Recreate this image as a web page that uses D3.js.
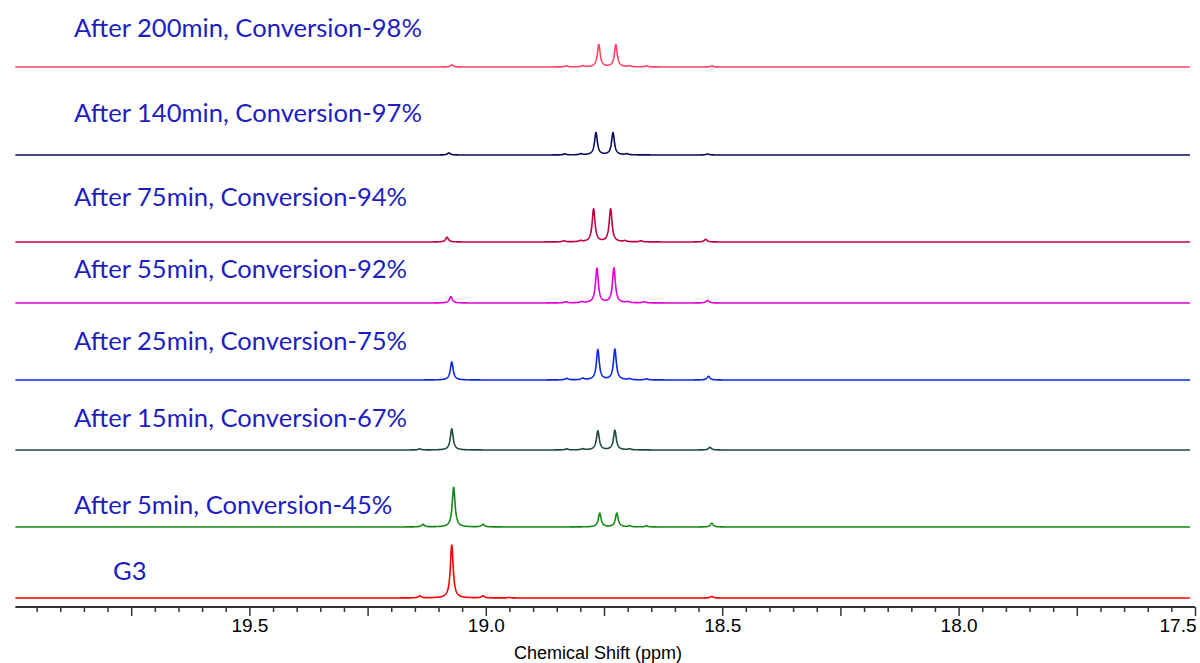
<!DOCTYPE html>
<html>
<head>
<meta charset="utf-8">
<script src="https://cdn.jsdelivr.net/npm/d3@7"></script>
<style>
  html, body { margin: 0; padding: 0; background: #fff; }
  svg { display: block; }
</style>
</head>
<body>
<svg id="chart" width="1200" height="663"></svg>
<script>
// ---------------- data ----------------
const seriesLabels = [
  "After 200min, Conversion-98%",
  "After 140min, Conversion-97%",
  "After 75min, Conversion-94%",
  "After 55min, Conversion-92%",
  "After 25min, Conversion-75%",
  "After 15min, Conversion-67%",
  "After 5min, Conversion-45%",
  "G3"
];
const seriesColors = ["#ff4466", "#0a0a64", "#c2003c", "#e000d8", "#0a28e6", "#1c4a40", "#138a13", "#ff0000"];

// peak lists: [chemical shift (ppm), relative intensity]
const peaks200 = [[19.072, 4], [18.829, 2], [18.795, 2], [18.761, 42], [18.725, 42], [18.696, 2], [18.660, 2], [18.522, 2]];
const peaks140 = [[19.078, 4], [18.833, 2], [18.799, 2], [18.767, 42], [18.731, 42], [18.702, 2], [18.531, 2]];
const peaks75  = [[19.082, 9], [18.835, 2], [18.800, 2], [18.772, 62], [18.736, 62], [18.706, 2], [18.672, 2], [18.535, 5]];
const peaks55  = [[19.074, 12], [18.831, 2], [18.797, 2], [18.765, 65], [18.729, 66], [18.700, 2], [18.665, 2], [18.531, 5]];
const peaks25  = [[19.072, 34], [18.829, 3], [18.795, 3], [18.763, 57], [18.727, 58], [18.696, 2], [18.660, 2], [18.529, 7]];
const peaks15  = [[19.140, 2], [19.072, 40], [18.829, 2], [18.795, 2], [18.763, 36], [18.727, 37], [18.696, 2], [18.526, 5]];
const peaks5   = [[19.133, 5], [19.068, 75], [19.006, 5], [18.759, 26], [18.723, 26], [18.696, 2], [18.660, 2], [18.522, 7]];
const peaksG3  = [[19.140, 4], [19.072, 100], [19.006, 4], [18.950, 1], [18.522, 3]];
const allPeaks = [peaks200, peaks140, peaks75, peaks55, peaks25, peaks15, peaks5, peaksG3];

const majorTickLabels = [19.5, 19.0, 18.5, 18.0, 17.5];
const axisTitle = "Chemical Shift (ppm)";

// ---------------- layout ----------------
const svg = d3.select("#chart");
const x = d3.scaleLinear().domain([20.0, 17.5]).range([13, 1195]);
const y = d3.scaleLinear().domain([0, 100]).range([0, 53]);   // intensity -> pixel height
const baselines = [67, 155, 242, 303, 380, 450, 527, 598];
const labelPos = [[74, 37], [74, 122], [74, 206], [74, 278], [74, 350], [74, 427], [74, 514], [113, 580]];
const axisY = 607;

// spectrum trace: sum of Lorentzian lines built from the peak list
const halfWidth = 0.0036;
const grid = d3.range(19.995, 17.51, -0.0005);
function trace(peaks) {
  return grid.map(p => {
    let v = 0;
    for (const [c, h] of peaks) {
      const t = (p - c) / halfWidth;
      v += h / (1 + t * t);
    }
    return [p, v];
  });
}

allPeaks.forEach((peaks, i) => {
  const line = d3.line()
    .x(d => x(d[0]))
    .y(d => baselines[i] - y(d[1]));
  svg.append("path")
    .datum(trace(peaks))
    .attr("d", line)
    .attr("fill", "none")
    .attr("stroke", seriesColors[i])
    .attr("stroke-width", 1.6)
    .attr("stroke-linejoin", "round");
});

// labels
const labelSel = svg.selectAll("text.lab")
  .data(seriesLabels)
  .enter().append("text")
  .attr("class", "lab")
  .attr("x", (d, i) => labelPos[i][0])
  .attr("y", (d, i) => labelPos[i][1])
  .attr("fill", "#1e1ec0")
  .attr("font-family", "Lato, 'Open Sans', sans-serif")
  .attr("font-size", 24)
  .text(d => d);
// fit the label size so the first label spans the same width as the reference
const w0 = labelSel.node().getComputedTextLength();
const fs = 24 * 348 / w0;
labelSel.attr("font-size", fs);

// axis
const minorTicks = x.ticks(50).filter(v => v < 19.999);
const axis = d3.axisBottom(x)
  .tickValues(minorTicks)
  .tickSize(5)
  .tickSizeOuter(0)
  .tickPadding(8)
  .tickFormat(v => majorTickLabels.some(m => Math.abs(m - v) < 1e-6) ? d3.format(".1f")(v) : "");
const gAxis = svg.append("g")
  .attr("transform", `translate(0,${axisY})`)
  .call(axis);
gAxis.select(".domain").attr("stroke", "#333").attr("stroke-width", 2)
  .attr("d", `M${x(19.995)},0H${x(17.5)}`);
gAxis.selectAll(".tick line")
  .attr("stroke", "#333")
  .attr("stroke-width", 1.5)
  .attr("y2", v => (Math.abs(v * 4 - Math.round(v * 4)) < 1e-6 ? 9 : 5));
gAxis.selectAll(".tick text")
  .attr("fill", "#000")
  .attr("font-family", "Arial, 'Liberation Sans', sans-serif")
  .attr("font-size", 19)
  .attr("y", 12)
  .attr("dy", "0.71em");
// the last label at the right edge is right-aligned to its tick so it stays inside
gAxis.selectAll(".tick text")
  .filter(v => Math.abs(v - d3.min(majorTickLabels)) < 1e-6)
  .attr("text-anchor", "end")
  .attr("x", 1);

svg.append("text")
  .attr("x", 598)
  .attr("y", 659)
  .attr("text-anchor", "middle")
  .attr("font-family", "Arial, 'Liberation Sans', sans-serif")
  .attr("font-size", 18)
  .attr("fill", "#000")
  .text(axisTitle);
</script>
</body>
</html>
